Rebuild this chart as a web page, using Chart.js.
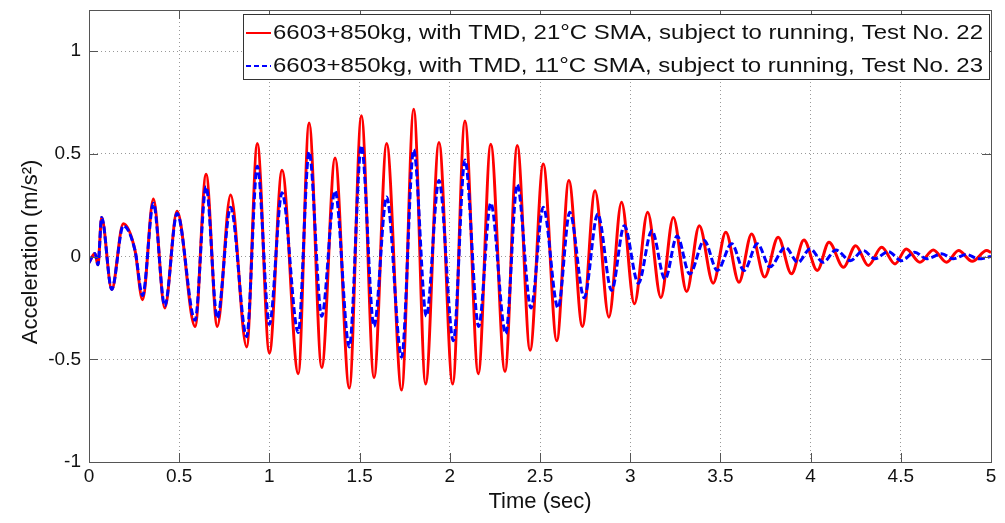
<!DOCTYPE html>
<html>
<head>
<meta charset="utf-8">
<script src="https://cdn.jsdelivr.net/npm/chart.js@4.4.1/dist/chart.umd.min.js"></script>
<style>
  html, body { margin: 0; padding: 0; background: #fff; }
</style>
</head>
<body>
<canvas id="accChart" width="1005" height="523"></canvas>
<script>
// axis ticks
var xTicks = [0, 0.5, 1, 1.5, 2, 2.5, 3, 3.5, 4, 4.5, 5];
var yTicks = [-1, -0.5, 0, 0.5, 1];

var seriesLabels = [
    "6603+850kg, with TMD, 21\u00B0C SMA, subject to running, Test No. 22",
    "6603+850kg, with TMD, 11\u00B0C SMA, subject to running, Test No. 23"
];

// Test No. 22 (red) - peaks and troughs
var test22Time = [0, 0.033, 0.05, 0.07, 0.126, 0.19, 0.255, 0.297, 0.357, 0.42, 0.488, 0.588, 0.649,
    0.711, 0.785, 0.874, 0.933, 1.0, 1.07, 1.16, 1.22, 1.29, 1.364, 1.443, 1.51, 1.58, 1.65,
    1.733, 1.80, 1.866, 1.94, 2.016, 2.084, 2.158, 2.227, 2.306, 2.374, 2.445, 2.518, 2.593,
    2.66, 2.735, 2.805, 2.882, 2.952, 3.023, 3.097, 3.17, 3.239, 3.313, 3.383, 3.46, 3.53,
    3.603, 3.673, 3.745, 3.82, 3.894, 3.963, 4.037, 4.102, 4.182, 4.25, 4.32, 4.394, 4.468,
    4.53, 4.606, 4.68, 4.754, 4.82, 4.896, 4.976, 5.0];
var test22Acc = [-0.03, 0.015, -0.04, 0.19, -0.16, 0.16, 0.03, -0.21, 0.28, -0.25, 0.22, -0.34, 0.40,
    -0.34, 0.30, -0.44, 0.55, -0.47, 0.42, -0.57, 0.65, -0.54, 0.48, -0.64, 0.685, -0.59, 0.55,
    -0.65, 0.717, -0.62, 0.555, -0.62, 0.66, -0.57, 0.547, -0.56, 0.54, -0.456, 0.45, -0.41,
    0.37, -0.34, 0.32, -0.295, 0.264, -0.23, 0.215, -0.20, 0.19, -0.17, 0.15, -0.13, 0.118,
    -0.125, 0.11, -0.10, 0.094, -0.084, 0.08, -0.068, 0.07, -0.052, 0.053, -0.044, 0.045, -0.036,
    0.037, -0.028, 0.032, -0.028, 0.029, -0.023, 0.029, 0.02];

// Test No. 23 (blue dashed)
var test23Time = [0, 0.033, 0.05, 0.07, 0.126, 0.19, 0.255, 0.297, 0.357, 0.42, 0.488, 0.588, 0.649,
    0.711, 0.785, 0.874, 0.933, 1.0, 1.07, 1.16, 1.22, 1.29, 1.364, 1.443, 1.51, 1.58, 1.65,
    1.733, 1.80, 1.87, 1.94, 2.02, 2.084, 2.16, 2.227, 2.31, 2.374, 2.45, 2.518, 2.60,
    2.665, 2.745, 2.82, 2.897, 2.967, 3.045, 3.12, 3.193, 3.26, 3.33, 3.41, 3.483, 3.563,
    3.631, 3.705, 3.775, 3.86, 3.93, 3.997, 4.07, 4.14, 4.22, 4.292, 4.357, 4.43, 4.505,
    4.577, 4.643, 4.727, 4.79, 4.865, 4.93, 5.0];
var test23Acc = [-0.03, 0.015, -0.04, 0.19, -0.16, 0.15, 0.03, -0.19, 0.26, -0.24, 0.21, -0.31, 0.34,
    -0.30, 0.24, -0.39, 0.44, -0.33, 0.31, -0.37, 0.51, -0.29, 0.32, -0.44, 0.54, -0.34, 0.29,
    -0.49, 0.52, -0.29, 0.37, -0.41, 0.47, -0.34, 0.26, -0.375, 0.35, -0.25, 0.24, -0.25,
    0.215, -0.20, 0.207, -0.165, 0.15, -0.13, 0.126, -0.11, 0.10, -0.085, 0.078, -0.068, 0.062,
    -0.068, 0.062, -0.05, 0.045, -0.028, 0.037, -0.028, 0.032, -0.02, 0.029, -0.011, 0.024, -0.02,
    0.021, -0.011, 0.013, -0.011, 0.01, -0.011, 0.0];

function toPoints(times, values) {
    var pts = [];
    for (var i = 0; i < times.length; i++) {
        pts.push({ x: times[i], y: values[i] });
    }
    return pts;
}

var fontFamily = '"Liberation Sans", Arial, sans-serif';
var titleFont = '22px ' + fontFamily;
var legendFont = '21px ' + fontFamily;

// box, inward ticks, titles and legend in the MATLAB style
var matlabFrame = {
    id: 'matlabFrame',
    afterDraw: function (chart) {
        var ctx = chart.ctx;
        var a = chart.chartArea;
        var xs = chart.scales.x;
        var ys = chart.scales.y;
        ctx.save();
        ctx.strokeStyle = '#555';
        ctx.lineWidth = 1;
        ctx.setLineDash([]);
        ctx.strokeRect(Math.round(a.left) + 0.5, Math.round(a.top) + 0.5,
            Math.round(a.right - a.left), Math.round(a.bottom - a.top));

        var len = 9;
        ctx.beginPath();
        xTicks.forEach(function (t) {
            var px = Math.round(xs.getPixelForValue(t)) + 0.5;
            ctx.moveTo(px, a.bottom); ctx.lineTo(px, a.bottom - len);
            ctx.moveTo(px, a.top); ctx.lineTo(px, a.top + len);
        });
        yTicks.forEach(function (t) {
            var py = Math.round(ys.getPixelForValue(t)) + 0.5;
            ctx.moveTo(a.left, py); ctx.lineTo(a.left + len, py);
            ctx.moveTo(a.right, py); ctx.lineTo(a.right - len, py);
        });
        ctx.stroke();

        // axis titles
        ctx.fillStyle = '#111';
        ctx.font = titleFont;
        ctx.textAlign = 'center';
        ctx.textBaseline = 'middle';
        ctx.fillText('Time (sec)', (a.left + a.right) / 2, 502);
        ctx.save();
        ctx.translate(31, 252);
        ctx.rotate(-Math.PI / 2);
        ctx.fillText('Acceleration (m/s\u00B2)', 0, 0);
        ctx.restore();

        // legend box
        var lx = 243, ly = 14, lw = 746, lh = 65;
        ctx.fillStyle = '#fff';
        ctx.fillRect(lx, ly, lw, lh);
        ctx.strokeStyle = '#333';
        ctx.strokeRect(lx + 0.5, ly + 0.5, lw, lh);
        var rows = [33, 66];
        chart.data.datasets.forEach(function (ds, i) {
            ctx.strokeStyle = ds.borderColor;
            ctx.lineWidth = 2;
            ctx.setLineDash(i === 1 ? [5, 3] : []);
            ctx.beginPath();
            ctx.moveTo(246, rows[i]);
            ctx.lineTo(271, rows[i]);
            ctx.stroke();
            ctx.setLineDash([]);
            ctx.fillStyle = '#111';
            ctx.font = legendFont;
            ctx.textAlign = 'left';
            var w = ctx.measureText(seriesLabels[i]).width;
            ctx.save();
            ctx.translate(273, rows[i]);
            ctx.scale(710 / w, 1);
            ctx.fillText(seriesLabels[i], 0, 0);
            ctx.restore();
        });
        ctx.restore();
    }
};

function plainLabel(value) {
    return String(value);
}

var ctx = document.getElementById('accChart').getContext('2d');
var chart = new Chart(ctx, {
    type: 'line',
    data: {
        datasets: [
            {
                label: seriesLabels[0],
                data: toPoints(test22Time, test22Acc),
                borderColor: '#ff0000',
                borderWidth: 3,
                pointRadius: 0,
                cubicInterpolationMode: 'monotone',
                fill: false,
                order: 1
            },
            {
                label: seriesLabels[1],
                data: toPoints(test23Time, test23Acc),
                borderColor: '#0000ff',
                borderWidth: 3,
                borderDash: [7, 3],
                pointRadius: 0,
                cubicInterpolationMode: 'monotone',
                fill: false,
                order: 0
            }
        ]
    },
    options: {
        responsive: false,
        animation: false,
        events: [],
        layout: { padding: { left: 0, right: 14, top: 10, bottom: 0 } },
        plugins: {
            legend: { display: false },
            tooltip: { enabled: false }
        },
        scales: {
            x: {
                type: 'linear',
                min: 0,
                max: 5,
                afterBuildTicks: function (scale) {
                    scale.ticks = xTicks.map(function (v) { return { value: v }; });
                },
                afterFit: function (scale) {
                    scale.height = 61;
                    scale.paddingLeft = 0;
                    scale.paddingRight = 0;
                },
                ticks: {
                    color: '#111',
                    font: { family: fontFamily, size: 19 },
                    padding: 3,
                    maxRotation: 0,
                    autoSkip: false,
                    callback: plainLabel
                },
                grid: { color: '#999', lineWidth: 1, drawTicks: false },
                border: { display: false, dash: [1, 3] }
            },
            y: {
                min: -1,
                max: 1.2,
                afterBuildTicks: function (scale) {
                    scale.ticks = yTicks.map(function (v) { return { value: v }; });
                },
                afterFit: function (scale) {
                    scale.width = 89;
                    scale.paddingTop = 0;
                    scale.paddingBottom = 0;
                },
                ticks: {
                    color: '#111',
                    font: { family: fontFamily, size: 19 },
                    padding: 8,
                    callback: plainLabel
                },
                grid: { color: '#999', lineWidth: 1, drawTicks: false },
                border: { display: false, dash: [1, 3] }
            }
        }
    },
    plugins: [matlabFrame]
});
</script>
</body>
</html>
